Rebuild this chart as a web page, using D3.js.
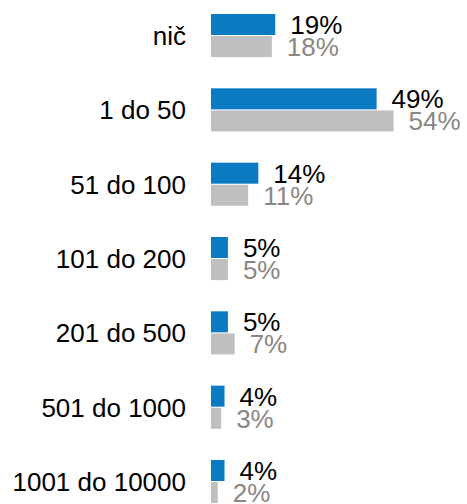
<!DOCTYPE html>
<html>
<head>
<meta charset="utf-8">
<script src="https://cdn.jsdelivr.net/npm/d3@7"></script>
<style>
  html, body { margin: 0; padding: 0; background: #ffffff; }
  svg { display: block; }
  text { font-family: "Liberation Sans", Arial, sans-serif; }
</style>
</head>
<body>
<div id="chart"></div>
<script>
// Categories (amount ranges) and the two series, in percent
const categories = ["nič", "1 do 50", "51 do 100", "101 do 200", "201 do 500", "501 do 1000", "1001 do 10000"];
const seriesKeys = ["current", "previous"];
const currentValues = [19, 49, 14, 5, 5, 4, 4];
const previousValues = [18, 54, 11, 5, 7, 3, 2];

const width = 467, height = 504;
const barColors = { current: "#0a7bc3", previous: "#bfbfbf" };
const labelColors = { current: "#000000", previous: "#8c8682" };

const rows = categories.map((c, i) => ({
  category: c,
  values: [
    { key: "current", value: currentValues[i] },
    { key: "previous", value: previousValues[i] }
  ]
}));

const svg = d3.select("#chart").append("svg")
  .attr("width", width)
  .attr("height", height);

// Horizontal value scale: bars grow to the right from the category column
const x = d3.scaleLinear().domain([0, 60]).range([211, 211 + 60 * 3.38]);

// Outer band: one slot per category; inner band: the two series inside it
const y = d3.scaleBand()
  .domain(categories)
  .range([-1.6, -1.6 + 7 * 74.33])
  .paddingInner(0.42)
  .paddingOuter(0.21);

const ySub = d3.scaleBand()
  .domain(seriesKeys)
  .range([0, y.bandwidth()])
  .paddingInner(0.05);

const groups = svg.selectAll("g.row")
  .data(rows)
  .join("g")
  .attr("class", "row")
  .attr("transform", d => `translate(0,${y(d.category)})`);

groups.selectAll("rect")
  .data(d => d.values)
  .join("rect")
  .attr("x", x(0))
  .attr("y", d => ySub(d.key))
  .attr("width", d => x(d.value) - x(0))
  .attr("height", ySub.bandwidth())
  .attr("fill", d => barColors[d.key]);

// Value labels beside each bar end
groups.selectAll("text.value")
  .data(d => d.values)
  .join("text")
  .attr("class", "value")
  .attr("x", d => x(d.value) + 15)
  .attr("y", d => ySub(d.key) + ySub.bandwidth() / 2)
  .attr("dy", "0.36em")
  .attr("font-size", 26)
  .attr("fill", d => labelColors[d.key])
  .text(d => d.value + "%");

// Category labels, right-aligned against the bars
groups.append("text")
  .attr("class", "cat")
  .attr("x", 186)
  .attr("y", y.bandwidth() / 2)
  .attr("dy", "0.36em")
  .attr("text-anchor", "end")
  .attr("font-size", 26)
  .attr("fill", "#000000")
  .text(d => d.category);
</script>
</body>
</html>
